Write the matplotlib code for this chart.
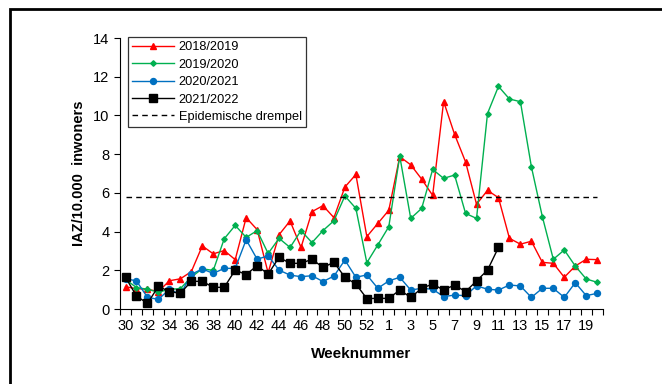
import matplotlib
matplotlib.use('Agg')
import matplotlib.pyplot as plt
from matplotlib.patches import Rectangle

plt.rcParams['font.family'] = ['Liberation Sans', 'DejaVu Sans']

# week numbers on the category axis (season runs week 30 .. week 20)
weeks = list(range(30, 54)) + list(range(1, 21))

ili_2018 = [1.15, 1.05, 1.02, 0.9, 1.46, 1.56, 1.93, 3.26, 2.85, 3.02, 2.55,
            4.72, 4.1, 1.87, 3.84, 4.55, 3.18, 5.03, 5.34, 4.72, 6.3, 6.95,
            3.74, 4.42, 5.1, 7.87, 7.45, 6.71, 5.87, 10.72, 9.02, 7.6, 5.41,
            6.13, 5.75, 3.65, 3.35, 3.5, 2.41, 2.36, 1.64, 2.22, 2.57, 2.55]
ili_2019 = [1.53, 1.11, 1.02, 0.87, 1.02, 1.05, 1.65, 2.08, 1.99, 3.63, 4.32,
            3.7, 4.05, 2.87, 3.65, 3.18, 4.05, 3.43, 4.05, 4.56, 5.84, 5.2,
            2.39, 3.31, 4.25, 7.9, 4.68, 5.2, 7.21, 6.75, 6.92, 4.94, 4.68,
            10.1, 11.5, 10.85, 10.71, 7.35, 4.77, 2.57, 3.05, 2.22, 1.55, 1.38]
ili_2020 = [1.57, 1.45, 0.6, 0.5, 1.02, 0.75, 1.79, 2.07, 1.84, 2.1, 2.1,
            3.58, 2.57, 2.75, 2.01, 1.75, 1.67, 1.72, 1.42, 1.7, 2.53, 1.64,
            1.76, 1.07, 1.45, 1.64, 0.98, 1.07, 1.02, 0.64, 0.72, 0.69, 1.2,
            1.02, 0.98, 1.24, 1.19, 0.6, 1.07, 1.07, 0.6, 1.36, 0.69, 0.81]
ili_2021 = [1.64, 0.67, 0.29, 1.17, 0.9, 0.81, 1.43, 1.43, 1.12, 1.12, 2.01,
            1.78, 2.24, 1.8, 2.67, 2.36, 2.36, 2.57, 2.15, 2.41, 1.64, 1.29,
            0.54, 0.55, 0.55, 0.98, 0.6, 1.07, 1.29, 0.98, 1.24, 0.9, 1.45,
            2.01, 3.18]
threshold = 5.77

my_dpi = 100
fig = plt.figure(figsize=(662 / my_dpi, 384 / my_dpi), dpi=my_dpi)
ax = fig.add_axes([0.1813, 0.1953, 0.7291, 0.7057])

x = list(range(len(weeks)))
ax.plot(x, ili_2018, color='#FF0000', lw=1.0, marker='^', ms=4.5, label='2018/2019')
ax.plot(x, ili_2019, color='#00B050', lw=1.0, marker='D', ms=2.8, label='2019/2020')
ax.plot(x, ili_2020, color='#0070C0', lw=1.0, marker='o', ms=4.3, label='2020/2021')
ax.plot(x[:len(ili_2021)], ili_2021, color='black', lw=1.0, marker='s', ms=5.2,
        label='2021/2022')
ax.plot(x, [threshold] * len(weeks), color='black', lw=1.0, ls=(0, (4, 3)),
        label='Epidemische drempel')

ax.set_xlim(-0.5, len(weeks) - 0.5)
ax.set_ylim(0, 14)
ax.set_yticks(range(0, 15, 2))
ax.set_xticks(x[::2])
ax.set_xticklabels([str(w) for w in weeks[::2]])
ax.set_xticks([i - 0.5 for i in range(len(weeks) + 1)], minor=True)
ax.tick_params(axis='x', which='major', length=0, pad=7, labelsize=10.5)
ax.tick_params(axis='x', which='minor', length=4, width=0.8, direction='out')
ax.tick_params(axis='y', length=4, width=0.8, direction='out', labelsize=10.5)

for side in ('top', 'right'):
    ax.spines[side].set_visible(False)
for side in ('left', 'bottom'):
    ax.spines[side].set_linewidth(0.8)

ax.set_xlabel('Weeknummer', fontsize=11, fontweight='bold', labelpad=10)
ax.set_ylabel('IAZ/10.000  inwoners', fontsize=10.5, fontweight='bold', labelpad=5)

leg = ax.legend(loc='upper left', bbox_to_anchor=(0.016, 1.004), fontsize=9.2,
                frameon=True, fancybox=False, edgecolor='black',
                handlelength=3.3, labelspacing=0.42, borderpad=0.35,
                handletextpad=0.35, borderaxespad=0)
leg.get_frame().set_linewidth(0.9)

# outer chart frame
fig.patches.append(Rectangle((10 / 662, -0.2), 2, 0.2 + 1 - 9 / 384,
                             transform=fig.transFigure, fill=False,
                             edgecolor='black', linewidth=2))

plt.savefig('out.png', dpi=my_dpi)
plt.close()
